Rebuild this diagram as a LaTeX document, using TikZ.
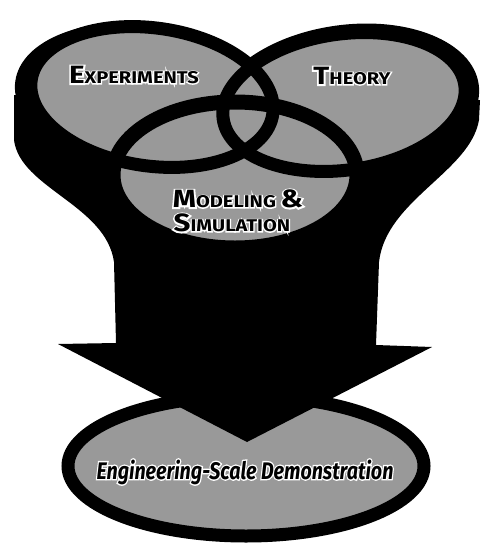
\documentclass[tikz,border=0pt]{standalone}
\usepackage{fontspec}
\setmainfont{Fira Sans}
\newfontfamily\halofont{Fira Sans}[BoldFeatures={FakeBold=12}, BoldItalicFeatures={FakeBold=12}]
\usetikzlibrary{positioning}

\tikzset{
  vennfill/.style={fill=black!40},
  vennline/.style={draw=black, line width=13pt},
  capslabel/.style={font=\bfseries, inner sep=0pt},
  halolabel/.style={font=\halofont\bfseries, text=white, inner sep=0pt},
}
% fake small caps: first letter large, rest small, a bit widened
\newcommand{\bigsc}[2]{\scalebox{1.18}[1]{{\fontsize{25}{25}\selectfont #1}{\fontsize{17}{17}\selectfont #2}}}

\begin{document}
\begin{tikzpicture}[x=1pt,y=-1pt]
\useasboundingbox (0,0) rectangle (483,552);

% bottom ellipse
\fill[vennfill] (246,466) ellipse [x radius=178, y radius=70];
\draw[vennline] (246,466) ellipse [x radius=178, y radius=70];

% black silhouette with the big arrow
\fill[rotate around={-8:(150,100)}] (150,100) ellipse [x radius=136, y radius=76];
\fill[rotate around={8:(346,103)}] (346,103) ellipse [x radius=134, y radius=78];
\fill (14,95) -- (14,140) .. controls (20,188) and (106,205) .. (114,262) -- (116,343)
  -- (58,344) -- (247,442) -- (432,347) -- (376,345) -- (379,262)
  .. controls (386,200) and (470,172) .. (479,120) -- (480,100) -- (247,110) -- cycle;

% the three circles
\fill[vennfill, rotate around={-8:(152,97)}] (152,97) ellipse [x radius=122, y radius=69];
\fill[vennfill, rotate around={8:(344,102)}] (344,102) ellipse [x radius=122, y radius=68];
\fill[vennfill] (235,175) ellipse [x radius=122, y radius=73];
\draw[vennline, rotate around={-8:(152,97)}] (152,97) ellipse [x radius=122, y radius=69];
\draw[vennline, rotate around={8:(344,102)}] (344,102) ellipse [x radius=122, y radius=68];
\draw[vennline, line width=15pt] (235,175) ellipse [x radius=122, y radius=73];

% white halo behind the labels
\node[halolabel] (exp-halo) at (134,75) {\bigsc{E}{XPERIMENTS}};
\node[halolabel] (theory-halo) at (352,76) {\bigsc{T}{HEORY}};
\node[halolabel] (model-halo) at (238,199) {\bigsc{M}{ODELING {\fontsize{25}{25}\selectfont\&}}};
\node[halolabel] (sim-halo) at (232,223) {\bigsc{S}{IMULATION}};
\node[halolabel, font=\halofont\fontsize{24}{24}\selectfont\bfseries\itshape] (demo-halo) at (245,472)
  {\scalebox{0.82}[1]{Engineering-Scale Demonstration}};

% labels
\node[capslabel] (exp) at (exp-halo) {\bigsc{E}{XPERIMENTS}};
\node[capslabel] (theory) at (theory-halo) {\bigsc{T}{HEORY}};
\node[capslabel] (model) at (model-halo) {\bigsc{M}{ODELING {\fontsize{25}{25}\selectfont\&}}};
\node[capslabel] (sim) at (sim-halo) {\bigsc{S}{IMULATION}};
\node[font=\fontsize{24}{24}\selectfont\bfseries\itshape, inner sep=0pt] (demo) at (demo-halo)
  {\scalebox{0.82}[1]{Engineering-Scale Demonstration}};
\end{tikzpicture}
\end{document}
